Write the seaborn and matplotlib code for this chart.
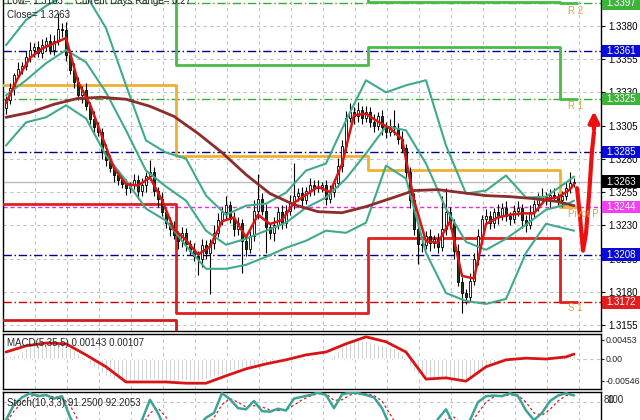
import numpy as np
import pandas as pd
import matplotlib
matplotlib.use("Agg")
import matplotlib.pyplot as plt
import matplotlib.transforms as mtransforms
from matplotlib.patches import Rectangle
import seaborn as sns

sns.set_style("white")
plt.rcParams["font.family"] = ["Liberation Sans", "DejaVu Sans"]

# ── Data: EURUSD-style M30 candles, prices in pips above 1.3000 ─────
first_open = 318
close_pips = [
    324, 333, 343, 348, 350, 357, 362, 364, 360, 366,
    369, 362, 369, 378, 377, 358, 347, 338, 328, 332,
    320, 310, 304, 300, 286, 279, 273, 268, 264, 261,
    258, 260, 264, 256, 260, 267, 270, 256, 250, 240,
    232, 227, 223, 218, 224, 216, 211, 207, 205, 215,
    209, 217, 224, 234, 240, 245, 235, 227, 232, 218,
    212, 222, 241, 250, 241, 229, 224, 230, 240, 232,
    241, 247, 252, 254, 249, 256, 260, 258, 259, 260,
    250, 255, 262, 275, 290, 311, 315, 312, 317, 311,
    315, 308, 305, 312, 304, 300, 305, 303, 295, 288,
    270, 249, 227, 216, 215, 222, 217, 220, 214, 227,
    240, 232, 211, 187, 179, 176, 188, 205, 222, 235,
    237, 232, 240, 237, 243, 237, 235, 241, 243, 234,
    230, 240, 246, 250, 252, 249, 253, 251, 249, 252,
    258, 262, 263,
]
upper_wick = [
    3, 4, 2, 5, 3, 4, 6, 3, 5, 4,
    3, 5, 4, 12, 4, 6, 3, 5, 4, 3,
    5, 3, 6, 4, 3, 5, 4, 3, 4, 3,
    4, 3, 5, 4, 6, 3, 9, 4, 3, 5,
    3, 4, 6, 3, 5, 4, 3, 6, 4, 5,
    4, 3, 6, 5, 4, 7, 3, 5, 4, 3,
    5, 4, 8, 19, 4, 5, 3, 6, 4, 5,
    4, 6, 25, 4, 5, 3, 6, 4, 5, 3,
    4, 5, 3, 6, 4, 5, 7, 4, 6, 3,
    5, 4, 6, 3, 5, 4, 5, 12, 4, 6,
    3, 4, 5, 3, 6, 4, 5, 3, 4, 25,
    18, 4, 3, 5, 4, 3, 6, 4, 5, 3,
    5, 4, 3, 6, 4, 5, 3, 4, 5, 3,
    4, 5, 3, 4, 6, 3, 4, 5, 3, 4,
    5, 8, 3,
]
lower_wick = [
    4, 3, 5, 2, 4, 3, 4, 5, 3, 4,
    5, 3, 4, 3, 5, 4, 3, 5, 4, 6,
    3, 4, 5, 3, 6, 4, 3, 5, 4, 3,
    5, 4, 3, 6, 4, 5, 3, 4, 6, 3,
    4, 5, 3, 6, 4, 5, 3, 4, 12, 6,
    4, 31, 5, 3, 4, 6, 3, 5, 4, 24,
    5, 3, 4, 6, 3, 20, 4, 6, 3, 5,
    4, 3, 5, 4, 6, 3, 4, 5, 3, 4,
    5, 3, 4, 3, 5, 4, 3, 6, 4, 5,
    3, 4, 5, 3, 6, 4, 3, 5, 4, 3,
    5, 6, 4, 15, 5, 3, 6, 4, 5, 3,
    4, 5, 6, 3, 15, 5, 4, 3, 5, 4,
    3, 5, 4, 6, 3, 4, 5, 3, 4, 6,
    5, 3, 4, 5, 3, 4, 6, 3, 4, 5,
    3, 4, 3,
]

# Bollinger bands, read every 5th candle
band_idx = list(range(0, 141, 5)) + [142]
bb_upper = [365.6, 384.5, 395.1, 403.4, 403.4, 378.5, 335.4, 293.9, 284.8, 280.3,
            252.4, 238.0, 244.8, 246.3, 254.6, 271.2, 276.5, 309.0, 339.2, 330.1,
            335.4, 339.2, 290.1, 253.9, 256.2, 267.5, 250.9, 251.6, 262.2, 266.7]
bb_middle = [327.9, 339.2, 352.0, 361.9, 352.8, 330.1, 301.5, 271.2, 259.2, 248.6,
             226.0, 215.4, 219.9, 226.0, 232.0, 243.3, 250.9, 265.2, 284.1, 304.5,
             301.5, 276.5, 242.6, 217.6, 211.6, 219.9, 230.5, 241.8, 245.6, 248.6]
bb_lower = [290.1, 307.5, 311.3, 320.3, 310.5, 282.6, 263.7, 242.6, 233.5, 214.6,
            197.3, 197.3, 200.3, 206.3, 213.1, 218.4, 226.0, 224.4, 232.0, 275.0,
            265.2, 209.3, 179.1, 173.1, 170.9, 174.6, 209.3, 231.2, 227.5, 226.0]

# fast MA (red), every 3rd candle
fast_idx = list(range(0, 142, 3)) + [142]
ma_fast = [322, 341, 356, 363, 367, 371, 338, 321, 297, 273,
           261, 260, 266, 249, 227, 219, 208, 214, 233, 236,
           221, 238, 231, 234, 247, 253, 259, 255, 276, 313,
           314, 308, 303, 295, 249, 218, 217, 233, 192, 190,
           231, 236, 238, 239, 239, 250, 251, 257, 261]

# slow MA (maroon), every 6th candle
slow_idx = list(range(0, 139, 6)) + [142]
ma_slow = [311.3, 315.0, 321.1, 325.6, 326.4, 324.9, 319.6, 312.0, 299.2, 284.8,
           268.2, 253.9, 245.6, 240.3, 239.5, 244.1, 250.1, 256.2, 256.9, 254.6,
           252.4, 251.6, 250.1, 247.9, 244.8]

# Pivot levels per trading day
day_edges = [-0.75, 42.5, 90.5, 138.5, 142.75]
pivot_p = [335.5, 282.5, 272.0, 244.0]
pivot_r1 = [410.0, 350.6, 364.0, 325.0]
pivot_r2 = [420.0, 420.0, 397.8, 397.0]
pivot_s1 = [246.4, 164.0, 220.7, 172.0]
pivot_s2 = [158.8, 120.0]
pivot_labels = ["R 2", "R 1", "Pivot P", "S 1"]
pivot_label_y = [391.3, 319.6, 238.8, 167.8]

# Horizontal levels (full width) and price boxes
levels_green = [397, 325]
levels_blue = [361, 285, 208]
level_magenta = 244
level_red = 172
bid = 263
price_boxes = [(397, "#3cb43c"), (361, "#0a0ad8"), (325, "#3cb43c"), (285, "#0a0ad8"),
               (263, "#000000"), (244, "#f040f0"), (208, "#0a0ad8"), (172, "#e01e1e")]
price_ticks = list(range(155, 381, 25))

# MACD(5,35,5): histogram per candle and signal every 5th candle (units 1e-4)
macd_hist = [
    6, 7, 8, 12, 19, 26, 31, 33, 35, 35,
    36, 36, 36, 37, 36, 32, 27, 21, 14, 6,
    -4, -13, -21, -28, -35, -42, -46, -50, -52, -54,
    -55, -55, -54, -53, -52, -51, -49, -50, -52, -53,
    -55, -55, -55, -54, -53, -53, -54, -54, -54, -52,
    -50, -48, -45, -42, -39, -35, -31, -28, -25, -23,
    -21, -19, -16, -13, -12, -11, -10, -9, -8, -7,
    -6, -4, -3, -1, 0, 1, 2, 2, 2, 3,
    2, 4, 9, 18, 30, 40, 44, 45, 45, 45,
    44, 41, 38, 36, 34, 31, 29, 25, 18, 10,
    -2, -17, -30, -40, -45, -48, -50, -50, -48, -47,
    -45, -46, -50, -54, -55, -55, -50, -43, -35, -28,
    -22, -17, -13, -10, -7, -6, -4, -3, -2, -3,
    -4, -3, 0, 1, 3, 5, 7, 8, 9, 10,
    12, 13, 14,
]
signal_idx = list(range(0, 141, 5)) + [142]
macd_signal = [16, 31, 38, 36, 9, -20, -57, -57, -57, -60,
               -60, -42, -25, -13, -3, 9, 16, 36, 53, 41,
               16, -50, -47, -55, -20, -3, 1, -1, 4, 11]

# Stochastic(10,3,3), every 2nd candle
stoch_idx = list(range(0, 143, 2))
stoch_main = [50, 76, 88, 95, 90, 92, 86, 90, 55, 30,
              18, 12, 10, 14, 20, 28, 38, 50, 84, 62,
              32, 18, 12, 20, 40, 54, 62, 95, 85, 70,
              68, 82, 65, 64, 69, 66, 86, 89, 92, 96,
              92, 70, 93, 96, 95, 92, 88, 70, 40, 20,
              10, 8, 12, 25, 52, 68, 42, 35, 50, 80,
              90, 91, 90, 95, 90, 66, 50, 62, 82, 91,
              95, 91.25]
stoch_signal = [45, 65, 80, 90, 92, 91, 89, 88, 75, 50,
                30, 18, 13, 12, 15, 22, 30, 40, 62, 70,
                55, 35, 20, 16, 25, 40, 54, 76, 86, 80,
                72, 74, 72, 67, 66, 67, 75, 84, 90, 94,
                94, 83, 84, 92, 95, 94, 91, 82, 60, 38,
                20, 12, 10, 16, 33, 52, 55, 44, 42, 62,
                80, 89, 91, 92, 92, 80, 62, 58, 68, 82,
                91, 92.2]

# hand-drawn forecast arrow (candle index, pips)
arrow_x = [142.75, 143.5, 144.25, 145.0, 145.75, 146.5, 147.0]
arrow_y = [258, 237, 211, 224, 252, 286, 300]
arrow_tip = (147.0, 318)

# ── Colours ─────────────────────────────────────────────────────────
teal = "#40aa8c"
maroon = "#8c2c2c"
red = "#d81414"
grid_kw = dict(color="#c4c4c4", lw=0.8, ls=(0, (3, 3)))

# ── Layout in pixels ────────────────────────────────────────────────
W, H = 640, 420
fig = plt.figure(figsize=(6.4, 4.2), dpi=100)


def axes_px(x0, y0, x1, y1):
    return fig.add_axes([x0 / W, 1 - y1 / H, (x1 - x0) / W, (y1 - y0) / H])


ax = axes_px(3, 0, 601, 331)
axm = axes_px(3, 334, 601, 389)
axs = axes_px(3, 392, 601, 450)

xlim = (-0.75, 148.75)
grid_x = np.arange(7.25, 146, 8)

# ── Main price panel ────────────────────────────────────────────────
df = pd.DataFrame({"close": close_pips, "uw": upper_wick, "lw": lower_wick})
df["open"] = [first_open] + close_pips[:-1]
df["high"] = df[["open", "close"]].max(axis=1) + df["uw"]
df["low"] = df[["open", "close"]].min(axis=1) - df["lw"]
df["x"] = np.arange(len(df))
up = df["close"] >= df["open"]

for v in levels_green:
    ax.axhline(v, color="#33aa33", lw=1, ls=(0, (6, 2, 1, 2)), zorder=2)
for v in levels_blue:
    ax.axhline(v, color="#000090", lw=1, ls=(0, (6, 2, 1, 2)), zorder=2)
ax.axhline(level_magenta, color="#e030e0", lw=1, ls=(0, (3, 2)), zorder=2)
ax.axhline(level_red, color="#cc0000", lw=1, ls=(0, (6, 2, 1, 2)), zorder=2)
ax.axhline(bid, color="#bcbcbc", lw=1, zorder=2)


# pivot steps
def step(values, color, lw=2):
    xs = day_edges[:len(values) + 1]
    ys = list(values) + [values[-1]]
    ax.plot(xs, ys, drawstyle="steps-post", color=color, lw=lw, zorder=3)


step(pivot_r2, "#48bb48")
step(pivot_r1, "#48bb48")
step(pivot_p, "#f0b030")
step(pivot_s1, "#e02020")
step(pivot_s2, "#d01c1c")

# candles
ax.vlines(df["x"], df["low"], df["high"], color="black", lw=0.8, zorder=4)
ax.bar(df["x"][up], (df["close"] - df["open"])[up], bottom=df["open"][up], width=0.7,
       color="white", edgecolor="black", lw=0.6, zorder=5)
ax.bar(df["x"][~up], (df["close"] - df["open"])[~up], bottom=df["open"][~up], width=0.7,
       color="#1c3a1e", edgecolor="black", lw=0.6, zorder=5)

# indicators
for band in (bb_upper, bb_middle, bb_lower):
    sns.lineplot(x=band_idx, y=band, ax=ax, color=teal, lw=1.5, zorder=6,
                 estimator=None, sort=False, legend=False)
sns.lineplot(x=slow_idx, y=ma_slow, ax=ax, color=maroon, lw=2, zorder=6,
             estimator=None, sort=False, legend=False)
sns.lineplot(x=fast_idx, y=ma_fast, ax=ax, color=red, lw=1.8, zorder=7,
             estimator=None, sort=False, legend=False)

# forecast arrow
ax.plot(arrow_x, arrow_y, color="#ee1010", lw=3, zorder=8, solid_capstyle="round")
ax.annotate("", xy=arrow_tip, xytext=(arrow_x[-1], arrow_y[-1]),
            arrowprops=dict(arrowstyle="-|>", color="#ee1010", lw=3, mutation_scale=16),
            zorder=8, annotation_clip=False)

ax.set_xlim(*xlim)
ax.set_ylim(150.5, 399.6)
ax.set_xticks(grid_x)
ax.set_yticks(price_ticks)
ax.set_yticklabels([f"1.3{v:03d}" for v in price_ticks])
ax.yaxis.tick_right()
ax.tick_params(axis="x", bottom=False, labelbottom=False)
ax.tick_params(axis="y", length=3, width=0.8, pad=2, labelsize=7, colors="black")
ax.grid(True, **grid_kw)
ax.set_xlabel("")
ax.set_ylabel("")

# price boxes on the right scale
bt = mtransforms.blended_transform_factory(fig.transFigure, ax.transData)
for v, col in price_boxes:
    ax.add_patch(Rectangle((602 / W, v - 4.6), 38 / W, 9.2, transform=bt,
                           facecolor=col, edgecolor="none", clip_on=False, zorder=10))
    ax.text(606 / W, v, f"1.3{v:03d}", transform=bt, color="white", fontsize=7,
            va="center", ha="left", zorder=11, clip_on=False)

# pivot labels
tan = "#d8a845"
for label, v in zip(pivot_labels, pivot_label_y):
    ax.text(140.5, v, label, color=tan, fontsize=7, va="center", ha="left", zorder=9)

# header text
fig.text(7 / W, 1 - 1 / H, "Low= 1.3163", fontsize=7, va="center", ha="left")
fig.text(75 / W, 1 - 1 / H, "Current Days Range= 0.27", fontsize=7, va="center", ha="left")
fig.text(7 / W, 1 - 15 / H, "Close= 1.3263", fontsize=7, va="center", ha="left")

# ── MACD panel ──────────────────────────────────────────────────────
axm.bar(np.arange(len(macd_hist)), macd_hist, width=0.6, color="#b8b8b8", zorder=2)
sns.lineplot(x=signal_idx, y=macd_signal, ax=axm, color=red, lw=2, zorder=3,
             estimator=None, sort=False, legend=False)
axm.axhline(0, **grid_kw, zorder=1)
axm.set_xlim(*xlim)
axm.set_ylim(-74.1, 59.9)
axm.set_xticks(grid_x)
axm.grid(True, axis="x", **grid_kw)
axm.set_yticks([45.3, 0, -54.6])
axm.set_yticklabels(["0.00453", "0.00", "-0.00546"])
axm.yaxis.tick_right()
axm.tick_params(axis="x", bottom=False, labelbottom=False)
axm.tick_params(axis="y", length=2, width=0.8, pad=1, labelsize=6.3)
axm.set_xlabel("")
axm.set_ylabel("")
axm.text(4 / 598, 1 - 9 / 55, "MACD(5,35,5) 0.00143 0.00107", transform=axm.transAxes,
         fontsize=7, va="center", ha="left", zorder=5)

# ── Stochastic panel ────────────────────────────────────────────────
sns.lineplot(x=stoch_idx, y=stoch_signal, ax=axs, color="#d02020", lw=0.9,
             linestyle=(0, (2, 2)), zorder=3, estimator=None, sort=False, legend=False)
sns.lineplot(x=stoch_idx, y=stoch_main, ax=axs, color="#3aa596", lw=1.8, zorder=4,
             estimator=None, sort=False, legend=False)
axs.axhline(80, **grid_kw, zorder=1)
axs.set_xlim(*xlim)
axs.set_ylim(0, 97)
axs.set_xticks(grid_x)
axs.grid(True, axis="x", **grid_kw)
axs.set_yticks([])
axs.tick_params(axis="x", bottom=False, labelbottom=False)
axs.set_xlabel("")
axs.set_ylabel("")
axs.text(4 / 598, 1 - 11 / 58, "Stoch(10,3,3) 91.2500 92.2053", transform=axs.transAxes,
         fontsize=7, va="center", ha="left", zorder=5)
fig.text(604 / W, 1 - 400 / H, "80", fontsize=7, va="center", ha="left")
fig.text(607 / W, 1 - 400 / H, "100", fontsize=7, va="center", ha="left")

for a in (ax, axm, axs):
    for s in a.spines.values():
        s.set_color("black")
        s.set_linewidth(1)
ax.spines["top"].set_visible(False)

fig.savefig("out.png", dpi=100, facecolor="white")
